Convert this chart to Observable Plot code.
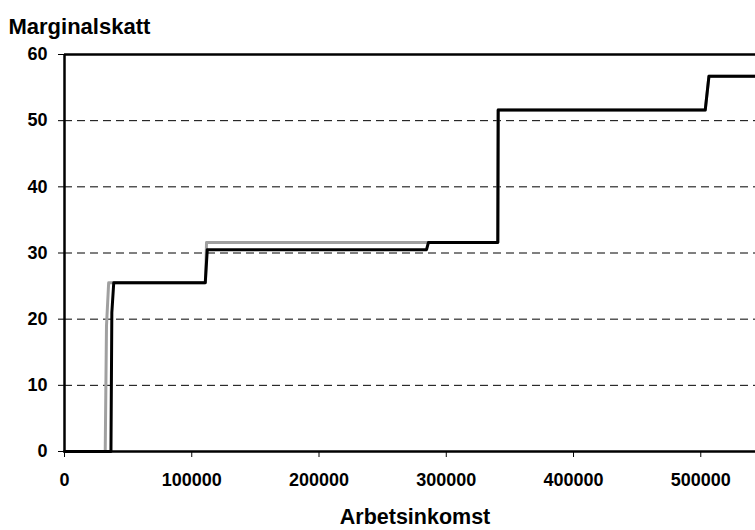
<!DOCTYPE html>
<html>
<head>
<meta charset="utf-8">
<script src="https://cdn.jsdelivr.net/npm/d3@7"></script>
<script src="https://cdn.jsdelivr.net/npm/@observablehq/plot@0.6"></script>
<style>
  html, body { margin: 0; padding: 0; background: #fff; }
</style>
</head>
<body>
<div id="chart"></div>
<script>
const titleY = "Marginalskatt";
const titleX = "Arbetsinkomst";
const xTicks = [0, 100000, 200000, 300000, 400000, 500000];
const yTicks = [0, 10, 20, 30, 40, 50, 60];
const gridLines = [10, 20, 30, 40, 50];

// Grey series
const grayInc = [0, 32000, 33000, 34700, 110800, 111600, 285500, 340500, 340800, 503500, 506400, 543000];
const grayTax = [0, 0, 19, 25.5, 25.5, 31.6, 31.6, 31.6, 51.6, 51.6, 56.7, 56.7];

// Black series
const blackInc = [0, 36500, 37200, 38700, 110600, 112200, 284500, 286000, 340500, 340800, 503500, 506400, 543000];
const blackTax = [0, 0, 21, 25.5, 25.5, 30.5, 30.5, 31.6, 31.6, 51.6, 51.6, 56.7, 56.7];

const gray = grayInc.map((x, i) => ({x, y: grayTax[i]}));
const black = blackInc.map((x, i) => ({x, y: blackTax[i]}));

const font = "'Liberation Sans', Arial, Helvetica, sans-serif";

const chart = Plot.plot({
  width: 755,
  height: 530,
  marginLeft: 64,
  marginRight: 0,
  marginTop: 54,
  marginBottom: 79,
  style: {fontFamily: font, fontWeight: "bold", fontSize: "18px", color: "black", background: "white", overflow: "visible"},
  x: {domain: [0, 543000], label: null},
  y: {domain: [0, 60], label: null},
  marks: [
    Plot.ruleY(gridLines, {stroke: "black", strokeWidth: 1, strokeDasharray: "8,5"}),
    Plot.line(gray, {x: "x", y: "y", stroke: "#a0a0a0", strokeWidth: 3}),
    Plot.line(black, {x: "x", y: "y", stroke: "black", strokeWidth: 3}),
    Plot.ruleY([0, 60], {stroke: "black", strokeWidth: 2.5}),
    Plot.ruleX([0], {stroke: "black", strokeWidth: 2.5}),
    Plot.axisX({ticks: xTicks, tickSize: 6, tickPadding: 16, tickFormat: d => String(d), label: null, fontSize: 18, fontWeight: "bold"}),
    Plot.axisY({ticks: yTicks, tickSize: 6, tickPadding: 11, tickFormat: d => String(d), label: null, fontSize: 18, fontWeight: "bold"}),
    Plot.text([titleY], {frameAnchor: "top-left", dx: -56, dy: -21, textAnchor: "start", lineAnchor: "bottom", fontSize: 22, fontWeight: "bold", fill: "black"}),
    Plot.text([titleX], {frameAnchor: "bottom", dx: 5, dy: 72, textAnchor: "middle", lineAnchor: "bottom", fontSize: 21.5, fontWeight: "bold", fill: "black"})
  ]
});
document.getElementById("chart").appendChild(chart);
</script>
</body>
</html>
